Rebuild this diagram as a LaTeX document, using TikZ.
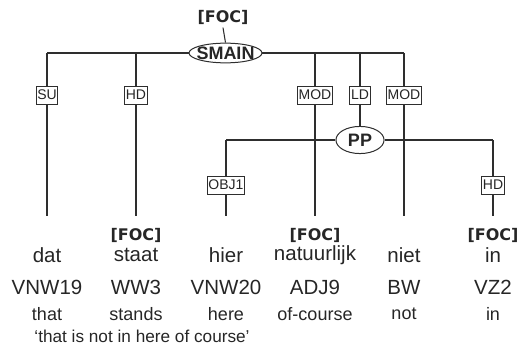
\documentclass[tikz,border=0pt]{standalone}
\usepackage{fontspec}
\setmainfont{Liberation Sans}
\newfontfamily\focfont{DejaVu Sans}
\usetikzlibrary{shapes.geometric}
\definecolor{ln}{gray}{0.18}
\definecolor{tx}{gray}{0.15}
\tikzset{
  rel/.style={draw=ln, line width=0.9pt, fill=white, inner xsep=1.2pt, inner ysep=1pt, text=tx, font=\fontsize{14}{14}\selectfont, minimum height=18pt},
  cat/.style={draw=ln, line width=1pt, ellipse, fill=white, font=\bfseries\fontsize{18}{18}\selectfont, text=black!85},
  conn/.style={draw=ln, line width=1.1pt},
  word/.style={font=\fontsize{20.5}{20}\selectfont, text=black!85},
  tagtext/.style={font=\fontsize{20.5}{20}\selectfont, text=black!85},
  gloss/.style={font=\fontsize{18}{18}\selectfont, text=black!85},
  transl/.style={font=\fontsize{17.2}{17}\selectfont, text=black!85},
  foc/.style={font=\focfont\bfseries\fontsize{16}{16}\selectfont, text=black!85},
}
\begin{document}
\begin{tikzpicture}[x=1pt,y=-1pt]
\useasboundingbox (0,0) rectangle (517,348);
% top
\node[foc] (topfoc) at (223,17) {[FOC]};
\node[cat, inner xsep=-3.2pt, inner ysep=0.6pt] (smain) at (225.5,53) {SMAIN};
\node[cat, inner xsep=5pt, inner ysep=3.4pt] (pp) at (360,140) {PP};
% coordinates on bars
\coordinate (b1) at (47,53);
\coordinate (b2) at (136,53);
\coordinate (b4) at (315,53);
\coordinate (b5) at (360,53);
\coordinate (b6) at (404,53);
\coordinate (p3) at (226,140);
\coordinate (p7) at (493,140);
% leaf ends
\coordinate (e1) at (47,216);
\coordinate (e2) at (136,216);
\coordinate (e3) at (226,216);
\coordinate (e4) at (315,216);
\coordinate (e6) at (404,216);
\coordinate (e7) at (493,216);
% connectors
\draw[conn] (topfoc.south) -- (smain.north);
\draw[conn] (b1) -- (smain.west);
\draw[conn] (smain.east) -- (b6);
\draw[conn] (p3) -- (pp.west);
\draw[conn] (pp.east) -- (p7);
\draw[conn] (b1) -- (e1);
\draw[conn] (b2) -- (e2);
\draw[conn] (b4) -- (e4);
\draw[conn] (b6) -- (e6);
\draw[conn] (b5) -- (pp.north);
\draw[conn] (p3) -- (e3);
\draw[conn] (p7) -- (e7);
% relation boxes
\node[rel] (su) at (47,95) {SU};
\node[rel] (hd) at (136,95) {HD};
\node[rel] (mod1) at (315,95) {MOD};
\node[rel] (ld) at (360,95) {LD};
\node[rel] (mod2) at (404,95) {MOD};
\node[rel] (obj) at (226,185) {OBJ1};
\node[rel] (hd2) at (493,185) {HD};
% words
\node[foc] (f2) at (136,235) {[FOC]};
\node[foc] (f4) at (315,235) {[FOC]};
\node[foc] (f7) at (493,235) {[FOC]};
\node[word] (w1) at (47,255) {dat};
\node[word] (w2) at (136,255) {staat};
\node[word] (w3) at (226,255) {hier};
\node[word] (w4) at (315,255) {natuurlijk};
\node[word] (w6) at (404,255) {niet};
\node[word] (w7) at (493,255) {in};
\node[tagtext] (t1) at (47,287) {VNW19};
\node[tagtext] (t2) at (136,287) {WW3};
\node[tagtext] (t3) at (226,287) {VNW20};
\node[tagtext] (t4) at (315,287) {ADJ9};
\node[tagtext] (t6) at (404,287) {BW};
\node[tagtext] (t7) at (493,287) {VZ2};
\node[gloss] (g1) at (47,314) {that};
\node[gloss] (g2) at (136,314) {stands};
\node[gloss] (g3) at (226,314) {here};
\node[gloss] (g4) at (315,314) {of-course};
\node[gloss] (g6) at (404,314) {not};
\node[gloss] (g7) at (493,314) {in};
\node[transl] (tr) at (142,336) {‘that is not in here of course’};
\end{tikzpicture}
\end{document}
